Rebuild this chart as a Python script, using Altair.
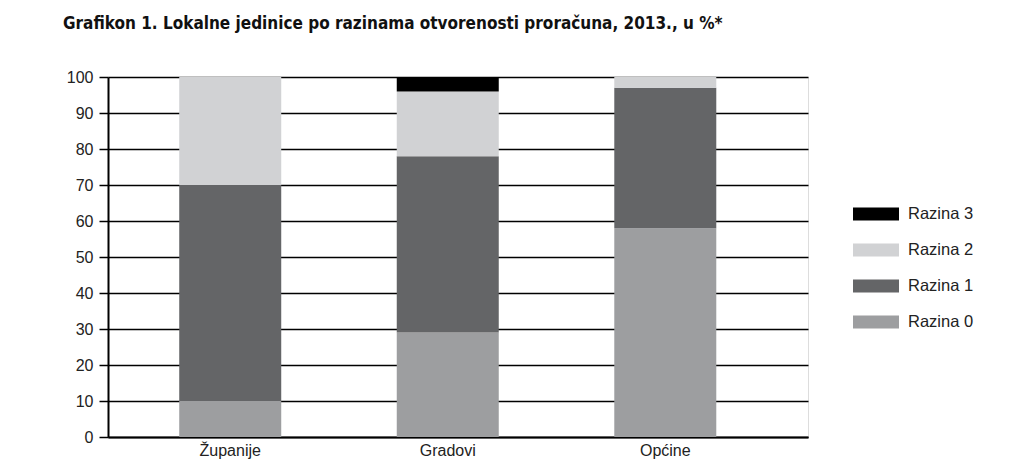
import altair as alt
import pandas as pd

categories = ["Županije", "Gradovi", "Općine"]
levels = ["Razina 0", "Razina 1", "Razina 2", "Razina 3"]
razina0 = [10, 29, 58]
razina1 = [60, 49, 39]
razina2 = [30, 18, 3]
razina3 = [0, 4, 0]
colors = {"Razina 3": "#000000", "Razina 2": "#d1d2d4", "Razina 1": "#646567", "Razina 0": "#9d9ea0"}

rows = []
for i, c in enumerate(categories):
    for lvl_idx, (lvl, vals) in enumerate(zip(levels, [razina0, razina1, razina2, razina3])):
        rows.append({"kategorija": c, "razina": lvl, "ord": lvl_idx, "vrijednost": vals[i]})
df = pd.DataFrame(rows)

legend_order = ["Razina 3", "Razina 2", "Razina 1", "Razina 0"]
LABEL_FONT = "Liberation Sans"

chart = alt.Chart(df).mark_bar(width=102).encode(
    x=alt.X("kategorija:N", sort=categories, title=None,
            scale=alt.Scale(paddingInner=0, paddingOuter=0.109, align=0.284),
            axis=alt.Axis(labelAngle=0, ticks=False, domainColor="#000000", domainWidth=2,
                          labelFont=LABEL_FONT, labelFontSize=16, labelColor="#222222",
                          labelPadding=5, grid=False)),
    y=alt.Y("vrijednost:Q", stack="zero", title=None,
            scale=alt.Scale(domain=[0, 100], nice=False),
            axis=alt.Axis(values=list(range(0, 101, 10)), tickSize=9, tickColor="#000000", tickWidth=1.5,
                          domainColor="#000000", domainWidth=2, grid=True, gridColor="#000000",
                          gridWidth=1.5, gridOpacity=1, labelFont=LABEL_FONT, labelFontSize=16,
                          labelColor="#222222", labelPadding=6)),
    color=alt.Color("razina:N",
                    scale=alt.Scale(domain=legend_order, range=[colors[k] for k in legend_order]),
                    legend=alt.Legend(title=None, orient="none", legendX=745, legendY=127,
                                      symbolType="M-1,-0.28H1V0.28H-1Z", symbolSize=2116,
                                      symbolStrokeWidth=0, symbolOpacity=1, clipHeight=20, rowPadding=16,
                                      labelFont=LABEL_FONT, labelFontSize=16.5,
                                      labelColor="#222222", labelOffset=9)),
    order=alt.Order("ord:Q", sort="ascending"),
).properties(
    width=700,
    height=360,
    padding={"left": 100, "top": 69, "right": 190, "bottom": 22},
    autosize=alt.AutoSizeParams(type="none"),
    title=alt.TitleParams(
        "Grafikon 1. Lokalne jedinice po razinama otvorenosti proračuna, 2013., u %*",
        anchor="start", frame="group", dx=-45, offset=36,
        font="DejaVu Sans Condensed", fontSize=17, fontWeight="bold", color="#111111"),
).configure_view(stroke=None).configure(background="#ffffff")

chart.save("out.html", embed_options={"renderer": "svg", "actions": False})
